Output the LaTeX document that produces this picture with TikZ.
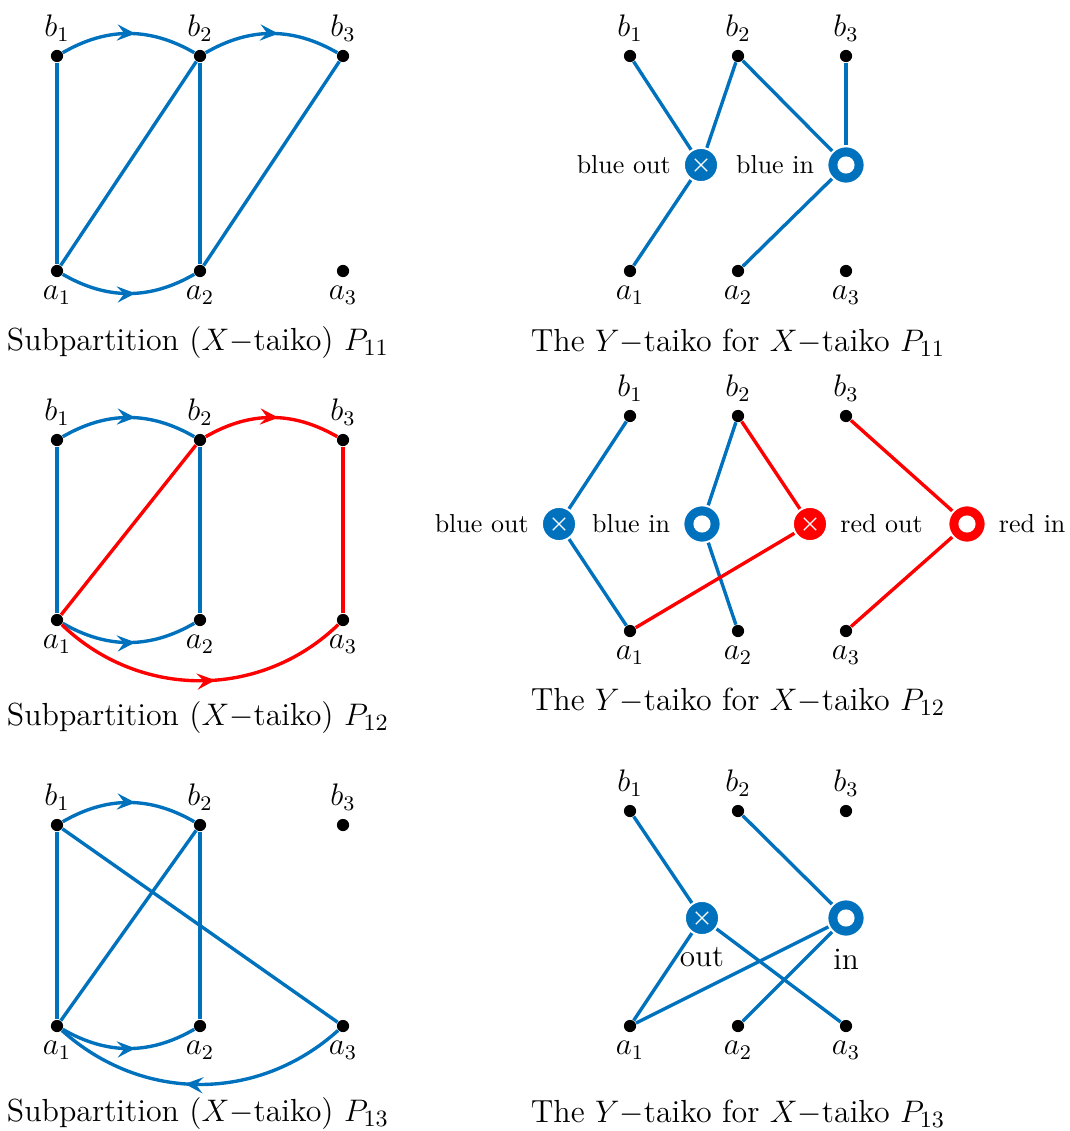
\documentclass[tikz,border=0pt]{standalone}
\usetikzlibrary{arrows.meta,decorations.markings,positioning}
\definecolor{mblue}{RGB}{0,114,189}
\definecolor{mred}{RGB}{255,0,0}
\begin{document}
\begin{tikzpicture}[x=0.385pt,y=0.385pt,
  dot/.style={circle,fill=black,inner sep=0pt,minimum size=4.7pt},
  lab/.style={font=\large,inner sep=3pt},
  txt/.style={inner sep=3pt},
  captxt/.style={font=\fontsize{12.3}{14}\selectfont},
  bl/.style={line width=1.3pt,color=mblue},
  rd/.style={line width=1.3pt,color=mred},
  mid/.style={decoration={markings,mark=at position 0.55 with {\arrow{Stealth[length=7pt,width=6.2pt,inset=2.6pt]}}},postaction={decorate}},
  xout/.style={circle,fill=#1,draw=white,line width=0.8pt,minimum size=13.2pt,inner sep=0pt,
    path picture={\draw[white,line width=0.45pt] (path picture bounding box.center) ++(-2.4pt,-2.4pt) -- ++(4.8pt,4.8pt) ++(0,-4.8pt) -- ++(-4.8pt,4.8pt);}},
  xin/.style={circle,fill=#1,draw=white,line width=0.8pt,minimum size=14.4pt,inner sep=0pt,
    path picture={\fill[white] (path picture bounding box.center) circle (3.3pt);}}
]
\useasboundingbox (0,0) rectangle (1069,-1131);

% ================= Panel 1 left =================
\foreach \i/\x in {1/57,2/200,3/343}{
  \node[dot] (Pb\i) at (\x,-56) {};
  \node[dot] (Pa\i) at (\x,-271) {};
  \node[lab,above=0pt of Pb\i] (Pbl\i) {$b_\i$};
  \node[lab,below=0pt of Pa\i] (Pal\i) {$a_\i$};
}
\draw[bl] (Pb1) -- (Pa1);
\draw[bl] (Pa1) -- (Pb2);
\draw[bl] (Pb2) -- (Pa2);
\draw[bl] (Pa2) -- (Pb3);
\draw[bl,mid] (Pb1) to[bend left=30] (Pb2);
\draw[bl,mid] (Pb2) to[bend left=30] (Pb3);
\draw[bl,mid] (Pa1) to[bend right=30] (Pa2);
\node[captxt] (cap1) at (198,-343) {Subpartition ($X-$taiko) $P_{11}$};

% ================= Panel 1 right =================
\foreach \i/\x in {1/630,2/738,3/846}{
  \node[dot] (Qb\i) at (\x,-56) {};
  \node[dot] (Qa\i) at (\x,-271) {};
  \node[lab,above=0pt of Qb\i] (Qbl\i) {$b_\i$};
  \node[lab,below=0pt of Qa\i] (Qal\i) {$a_\i$};
}
\node[xout=mblue] (Qo) at (701,-165) {};
\node[xin=mblue] (Qi) at (846,-165) {};
\node[txt,left=1.5pt of Qo] (Qol) {blue out};
\node[txt,left=1.5pt of Qi] (Qil) {blue in};
\draw[bl] (Qb1) -- (Qo);
\draw[bl] (Qb2) -- (Qo);
\draw[bl] (Qo) -- (Qa1);
\draw[bl] (Qb2) -- (Qi);
\draw[bl] (Qb3) -- (Qi);
\draw[bl] (Qi) -- (Qa2);
\node[captxt] (cap2) at (738,-343) {The $Y-$taiko for $X-$taiko $P_{11}$};

% ================= Panel 2 left =================
\foreach \i/\x in {1/57,2/200,3/343}{
  \node[dot] (Rb\i) at (\x,-440) {};
  \node[dot] (Ra\i) at (\x,-620) {};
  \node[lab,above=0pt of Rb\i] (Rbl\i) {$b_\i$};
  \node[lab,below=0pt of Ra\i] (Ral\i) {$a_\i$};
}
\draw[bl] (Rb1) -- (Ra1);
\draw[bl] (Rb2) -- (Ra2);
\draw[bl,mid] (Rb1) to[bend left=30] (Rb2);
\draw[bl,mid] (Ra1) to[bend right=30] (Ra2);
\draw[rd] (Ra1) -- (Rb2);
\draw[rd] (Rb3) -- (Ra3);
\draw[rd,mid] (Rb2) to[bend left=30] (Rb3);
\draw[rd,mid] (Ra1) to[bend right=44] (Ra3);
\node[captxt] (cap3) at (198,-718) {Subpartition ($X-$taiko) $P_{12}$};

% ================= Panel 2 right =================
\foreach \i/\x in {1/630,2/738,3/846}{
  \node[dot] (Sb\i) at (\x,-416) {};
  \node[dot] (Sa\i) at (\x,-631) {};
  \node[lab,above=0pt of Sb\i] (Sbl\i) {$b_\i$};
  \node[lab,below=0pt of Sa\i] (Sal\i) {$a_\i$};
}
\node[xout=mblue] (Sbo) at (559,-524) {};
\node[xin=mblue] (Sbi) at (702,-524) {};
\node[xout=mred] (Sro) at (810,-524) {};
\node[xin=mred] (Sri) at (967,-524) {};
\node[txt,left=1.5pt of Sbo] (Sbol) {blue out};
\node[txt,left=1.5pt of Sbi] (Sbil) {blue in};
\node[txt,right=1.5pt of Sro] (Srol) {red out};
\node[txt,right=1.5pt of Sri] (Sril) {red in};
\draw[bl] (Sb1) -- (Sbo);
\draw[bl] (Sbo) -- (Sa1);
\draw[bl] (Sb2) -- (Sbi);
\draw[bl] (Sbi) -- (Sa2);
\draw[rd] (Sb2) -- (Sro);
\draw[rd] (Sro) -- (Sa1);
\draw[rd] (Sb3) -- (Sri);
\draw[rd] (Sri) -- (Sa3);
\node[captxt] (cap4) at (738,-702) {The $Y-$taiko for $X-$taiko $P_{12}$};

% ================= Panel 3 left =================
\foreach \i/\x in {1/57,2/200,3/343}{
  \node[dot] (Tb\i) at (\x,-825) {};
  \node[dot] (Ta\i) at (\x,-1026) {};
  \node[lab,above=0pt of Tb\i] (Tbl\i) {$b_\i$};
  \node[lab,below=0pt of Ta\i] (Tal\i) {$a_\i$};
}
\draw[bl] (Tb1) -- (Ta1);
\draw[bl] (Ta1) -- (Tb2);
\draw[bl] (Tb2) -- (Ta2);
\draw[bl] (Tb1) -- (Ta3);
\draw[bl,mid] (Tb1) to[bend left=30] (Tb2);
\draw[bl,mid] (Ta1) to[bend right=30] (Ta2);
\draw[bl,mid] (Ta3) to[bend left=42] (Ta1);
\node[captxt] (cap5) at (198,-1114) {Subpartition ($X-$taiko) $P_{13}$};

% ================= Panel 3 right =================
\foreach \i/\x in {1/630,2/738,3/846}{
  \node[dot] (Ub\i) at (\x,-811) {};
  \node[dot] (Ua\i) at (\x,-1026) {};
  \node[lab,above=0pt of Ub\i] (Ubl\i) {$b_\i$};
  \node[lab,below=0pt of Ua\i] (Ual\i) {$a_\i$};
}
\node[xout=mblue] (Uo) at (702,-918) {};
\node[xin=mblue] (Ui) at (846,-918) {};
\node[lab,below=1pt of Uo] (Uol) {out};
\node[lab,below=1pt of Ui] (Uil) {in};
\draw[bl] (Ub1) -- (Uo);
\draw[bl] (Uo) -- (Ua1);
\draw[bl] (Uo) -- (Ua3);
\draw[bl] (Ub2) -- (Ui);
\draw[bl] (Ui) -- (Ua1);
\draw[bl] (Ui) -- (Ua2);
\node[captxt] (cap6) at (738,-1114) {The $Y-$taiko for $X-$taiko $P_{13}$};
\end{tikzpicture}
\end{document}
